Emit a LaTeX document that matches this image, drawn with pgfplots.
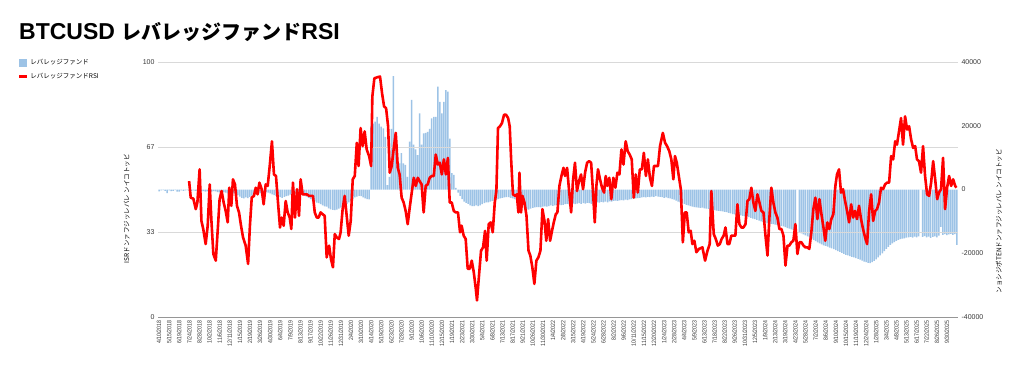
\documentclass[border=0pt]{standalone}
\usepackage{pgfplots}
\pgfplotsset{compat=1.18}
\usepackage{fontspec}
\setmainfont{Liberation Sans}
\newfontfamily\jp{Noto Sans CJK JP}
\newfontfamily\narrow[FakeStretch=0.84]{Liberation Sans}
\definecolor{barblue}{RGB}{157,195,230}
\definecolor{tickgray}{RGB}{55,55,55}
\definecolor{gridgray}{RGB}{217,217,217}
\definecolor{axisgray}{RGB}{150,150,150}
\begin{document}
\begin{tikzpicture}
\useasboundingbox (0,0) rectangle (1024bp,380bp);
\node[anchor=base west, inner sep=0] at (19bp,340bp) {\fontsize{23bp}{26bp}\selectfont\bfseries BTCUSD {\jp\fontsize{20bp}{26bp}\selectfont\bfseries レバレッジファンド}RSI};
\pgfplotsset{base/.style={at={(158bp,63bp)}, anchor=south west, scale only axis, width=800bp, height=255bp, xmin=-0.5, xmax=395.5, major tick length=0pt, /pgf/number format/assume math mode=true}}
% ---------- bars (right axis) ----------
\begin{axis}[base, ymin=-40000, ymax=40000,
  axis y line*=right, axis x line=none,
  y axis line style={draw=none},
  scaled y ticks=false,
  ytick={-40000,-20000,0,20000,40000},
  yticklabels={-40000,-20000,0,20000,40000},
  yticklabel style={font=\fontsize{7bp}{8bp}\selectfont, text=tickgray},
  ylabel={\jp\fontsize{6.5bp}{7bp}\selectfont ンョシジポTENドンァフジッレバレ ンイコトッビ},
  every axis y label/.style={at={(1.051,0.376)}, rotate=90, anchor=center},
  xtick=\empty]
\addplot[ybar, bar width=1.5bp, fill=barblue, draw=none] coordinates {
(0,-600)(1,-300)(2,-200)(3,-400)(4,-1100)(5,-300)(6,-500)(7,-400)(8,-200)(9,-700)
(10,-700)(11,-300)(12,-400)(13,-300)(14,-200)(15,-400)(16,-500)(17,-300)(18,-400)(19,-500)
(20,-400)(21,-600)(22,-500)(23,-700)(24,-600)(25,-800)(26,-700)(27,-500)(28,-600)(29,-800)
(30,-900)(31,-700)(32,-800)(33,-1000)(34,-1200)(35,-900)(36,-1500)(37,-1200)(38,-1600)(39,-1800)
(40,-2200)(41,-2600)(42,-2800)(43,-2500)(44,-2700)(45,-2300)(46,-1900)(47,-1500)(48,-1200)(49,-900)
(50,-1100)(51,-800)(52,-700)(53,-900)(54,-1000)(55,-1200)(56,-1500)(57,-1800)(58,-2000)(59,-2200)
(60,-2400)(61,-2600)(62,-2300)(63,-2100)(64,-1900)(65,-1600)(66,-1400)(67,-1500)(68,-1300)(69,-1500)
(70,-1700)(71,-1600)(72,-1900)(73,-2200)(74,-2600)(75,-3000)(76,-3400)(77,-3700)(78,-4100)(79,-4300)
(80,-4600)(81,-5000)(82,-5300)(83,-5400)(84,-5900)(85,-6200)(86,-6400)(87,-6500)(88,-6300)(89,-6000)
(90,-5700)(91,-5400)(92,-5000)(93,-4500)(94,-4000)(95,-3500)(96,-3000)(97,-2500)(98,-2200)(99,-2000)
(100,-2100)(101,-2500)(102,-2800)(103,-3000)(104,-3100)(105,20000)(106,20700)(107,21300)(108,22800)(109,20700)
(110,19700)(111,19200)(112,16500)(113,1400)(114,4000)(115,19000)(116,35600)(117,13600)(118,10500)(119,8200)
(120,11400)(121,8200)(122,7700)(123,4000)(124,15000)(125,28100)(126,14100)(127,12600)(128,10800)(129,23900)
(130,14100)(131,17600)(132,17800)(133,18100)(134,19000)(135,22300)(136,22800)(137,22800)(138,32300)(139,27500)
(140,23900)(141,27500)(142,31200)(143,30700)(144,16000)(145,5100)(146,4600)(147,500)(148,-1000)(149,-2000)
(150,-3000)(151,-3800)(152,-4200)(153,-4500)(154,-5000)(155,-5200)(156,-5200)(157,-5000)(158,-5200)(159,-5000)
(160,-4600)(161,-4300)(162,-4000)(163,-4000)(164,-3800)(165,-3600)(166,-3400)(167,-3200)(168,-3000)(169,-2800)
(170,-2600)(171,-2500)(172,-2400)(173,-2400)(174,-2600)(175,-2800)(176,-3000)(177,-3200)(178,-3500)(179,-4000)
(180,-5000)(181,-5800)(182,-6200)(183,-6300)(184,-6000)(185,-5800)(186,-5600)(187,-5500)(188,-5500)(189,-5600)
(190,-5400)(191,-5300)(192,-5400)(193,-5200)(194,-5000)(195,-5100)(196,-5000)(197,-4800)(198,-4700)(199,-4900)
(200,-4800)(201,-4600)(202,-4500)(203,-4700)(204,-4500)(205,-4400)(206,-4600)(207,-4400)(208,-4300)(209,-4500)
(210,-4300)(211,-4400)(212,-4200)(213,-4300)(214,-4500)(215,-4300)(216,-4200)(217,-4000)(218,-4100)(219,-3900)
(220,-4000)(221,-3800)(222,-4000)(223,-3700)(224,-3800)(225,-3600)(226,-3500)(227,-3600)(228,-3400)(229,-3300)
(230,-3400)(231,-3200)(232,-3300)(233,-3100)(234,-3000)(235,-2900)(236,-2800)(237,-2700)(238,-2600)(239,-2500)
(240,-2400)(241,-2500)(242,-2300)(243,-2400)(244,-2200)(245,-2300)(246,-2100)(247,-2200)(248,-2300)(249,-2400)
(250,-2600)(251,-2500)(252,-2700)(253,-2800)(254,-3000)(255,-3200)(256,-3500)(257,-3800)(258,-4000)(259,-4300)
(260,-4500)(261,-4800)(262,-5000)(263,-5200)(264,-5400)(265,-5500)(266,-5600)(267,-5700)(268,-5800)(269,-5700)
(270,-5900)(271,-6000)(272,-6100)(273,-6300)(274,-6400)(275,-6500)(276,-6600)(277,-6700)(278,-6800)(279,-6900)
(280,-7000)(281,-7100)(282,-7300)(283,-7500)(284,-7700)(285,-7800)(286,-7900)(287,-8000)(288,-8100)(289,-8300)
(290,-8400)(291,-8500)(292,-8700)(293,-8900)(294,-9100)(295,-9300)(296,-9500)(297,-9800)(298,-10000)(299,-10200)
(300,-10400)(301,-10600)(302,-10700)(303,-10800)(304,-10900)(305,-11000)(306,-11100)(307,-11200)(308,-11400)(309,-11600)
(310,-11800)(311,-12100)(312,-12300)(313,-12500)(314,-12700)(315,-13000)(316,0)(317,-13500)(318,-13800)(319,-14100)
(320,-14400)(321,-14700)(322,-15000)(323,-15400)(324,-15800)(325,-16200)(326,-16600)(327,-16900)(328,-17200)(329,-17500)
(330,-17700)(331,-17900)(332,-18200)(333,-18500)(334,-18700)(335,-19000)(336,-19300)(337,-19600)(338,-19900)(339,-20200)
(340,-20500)(341,-20700)(342,-20900)(343,-21100)(344,-21300)(345,-21500)(346,-21800)(347,-22000)(348,-22300)(349,-22600)
(350,-22800)(351,-23000)(352,-23100)(353,-22800)(354,-22400)(355,-21900)(356,-21300)(357,-20700)(358,-20000)(359,-19300)
(360,-18600)(361,-18000)(362,-17400)(363,-16900)(364,-16500)(365,-16100)(366,-15800)(367,-15600)(368,-15400)(369,-15300)
(370,-15100)(371,-15000)(372,-14900)(373,-15100)(374,-14800)(375,-15000)(376,-14700)(377,0)(378,-14900)(379,-14600)
(380,-15000)(381,-14800)(382,-15200)(383,-14900)(384,-14700)(385,-15000)(386,-14500)(387,-11700)(388,-14200)(389,-14000)
(390,-14300)(391,-14100)(392,-13900)(393,-14200)(394,-14000)(395,-17400)
};
\end{axis}
% ---------- RSI (left axis) ----------
\begin{axis}[base, ymin=0, ymax=100,
  axis x line*=bottom, axis y line*=left,
  y axis line style={draw=none},
  x axis line style={draw=axisgray, line width=0.8bp},
  ytick={0,33.333,66.667,100}, yticklabels={0,33,67,100},
  yticklabel style={font=\fontsize{7bp}{8bp}\selectfont, text=tickgray},
  ymajorgrids, grid style={gridgray, line width=0.75bp},
  xtick={0,5,...,390},
  xticklabels={4/10/2018,5/15/2018,6/19/2018,7/24/2018,8/28/2018,10/2/2018,11/6/2018,12/11/2018,
  1/15/2019,2/19/2019,3/26/2019,4/30/2019,6/4/2019,7/9/2019,8/13/2019,9/17/2019,10/22/2019,11/26/2019,12/31/2019,
  2/4/2020,3/10/2020,4/14/2020,5/19/2020,6/23/2020,7/28/2020,9/1/2020,10/6/2020,11/10/2020,12/15/2020,
  1/19/2021,2/23/2021,3/30/2021,5/4/2021,6/8/2021,7/13/2021,8/17/2021,9/21/2021,10/26/2021,11/30/2021,
  1/4/2022,2/8/2022,3/15/2022,4/19/2022,5/24/2022,6/28/2022,8/2/2022,9/6/2022,10/11/2022,11/15/2022,12/20/2022,
  1/24/2023,2/28/2023,4/4/2023,5/9/2023,6/13/2023,7/18/2023,8/22/2023,9/26/2023,10/31/2023,12/5/2023,
  1/9/2024,2/13/2024,3/19/2024,4/23/2024,5/28/2024,7/2/2024,8/6/2024,9/10/2024,10/15/2024,11/19/2024,12/24/2024,
  1/28/2025,3/4/2025,4/8/2025,5/13/2025,6/17/2025,7/22/2025,8/26/2025,9/30/2025},
  xticklabel style={rotate=90, anchor=east, font=\narrow\fontsize{6.2bp}{7bp}\selectfont, text=tickgray},
  ylabel={\jp\fontsize{6.5bp}{7bp}\selectfont ISRドンァフジッレバレ ンイコトッビ},
  every axis y label/.style={at={(-0.039,0.424)}, rotate=90, anchor=center},
  legend style={at={(-0.179,1.028)}, anchor=north west, draw=none, fill=none,
    font=\jp\fontsize{6.5bp}{7bp}\selectfont, row sep=3bp},
  legend cell align=left]
\addlegendimage{legend image code/.code={\fill[barblue] (0bp,-3.5bp) rectangle (7bp,3.5bp);}}
\addlegendentry{レバレッジファンド}
\addplot[red, line width=2.6bp, line join=round, mark=none,
  legend image code/.code={\draw[red, line width=2.5bp] (0bp,0bp) -- (8bp,0bp);}] coordinates {
(14.9,53.3)(15.7,46.8)(17.0,46.4)(18.2,42.3)(19.0,44.9)(20.1,57.9)(21.0,37.7)(21.9,34.5)(23.1,28.6)(24.1,35.8)
(25.1,52.0)(25.9,38.4)(26.9,24.7)(28.1,22.1)(29.2,35.8)(30.0,46.2)(31.0,49.4)(32.0,44.9)(33.0,41.6)(34.0,37.1)
(34.8,50.7)(35.8,43.6)(36.6,54.0)(37.6,52.0)(38.6,43.6)(39.6,41.0)(40.6,35.8)(41.6,31.2)(42.9,28.0)(44.1,20.8)
(45.0,35.8)(45.9,46.8)(47.0,47.5)(47.9,50.7)(48.8,48.1)(49.7,52.7)(50.8,50.1)(51.8,44.2)(52.8,52.0)(53.8,51.4)
(54.8,59.2)(55.9,68.9)(56.9,55.9)(57.9,55.3)(58.9,44.9)(59.9,35.1)(60.7,39.0)(61.7,35.8)(62.7,45.5)(63.7,41.0)
(64.7,39.0)(65.5,34.5)(66.3,52.7)(67.3,39.0)(68.3,50.1)(69.3,39.7)(70.1,54.0)(71.1,48.1)(72.1,48.1)(73.1,48.1)
(74.3,47.5)(75.4,47.5)(76.2,47.5)(77.1,41.0)(78.1,39.0)(79.0,39.0)(80.0,41.0)(81.0,40.3)(82.0,39.7)(83.0,23.4)
(84.2,28.0)(85.1,22.8)(86.1,19.5)(87.0,32.5)(88.0,31.2)(89.1,30.6)(89.9,33.2)(90.9,42.3)(91.9,47.5)(92.9,39.7)
(93.9,31.9)(94.9,37.7)(95.9,54.0)(96.9,55.3)(97.9,68.3)(98.8,59.2)(99.8,74.1)(100.8,67.0)(101.8,72.8)(102.8,65.7)
(104.0,63.1)(105.0,59.2)(105.6,86.5)(106.6,93.6)(108.0,94.0)(109.4,94.3)(110.4,87.8)(111.4,82.6)(112.4,81.9)(113.4,74.8)
(114.2,56.6)(115.2,59.2)(116.3,67.0)(117.2,72.2)(118.2,58.5)(119.1,55.9)(120.1,46.8)(121.1,44.9)(122.1,41.6)(123.1,36.4)
(124.1,42.9)(125.1,48.8)(126.1,54.6)(127.1,51.4)(128.1,54.6)(129.0,53.3)(130.0,52.0)(131.0,41.0)(132.0,51.4)(133.0,52.0)
(134.0,54.6)(135.0,55.3)(136.0,55.3)(137.0,63.7)(138.0,59.8)(139.0,60.5)(140.0,55.9)(141.0,61.8)(142.0,55.9)(143.0,62.4)
(143.9,44.9)(144.9,44.9)(145.9,41.6)(146.9,41.0)(148.0,41.0)(149.0,33.2)(149.8,35.8)(150.8,31.9)(151.8,30.6)(152.8,18.9)
(153.8,18.9)(154.8,22.1)(155.8,17.6)(156.8,11.1)(157.4,6.5)(158.4,16.3)(159.4,26.0)(160.4,27.3)(161.4,33.8)(162.2,22.1)
(163.2,36.4)(164.2,37.1)(165.2,33.2)(166.2,44.9)(167.0,49.4)(167.8,74.1)(168.8,74.8)(169.8,76.1)(170.8,79.3)(171.8,79.3)
(172.8,78.0)(173.6,74.8)(174.3,61.8)(175.2,48.1)(176.3,47.5)(177.1,48.1)(177.9,41.0)(178.4,56.6)(179.2,41.0)(179.9,47.5)
(180.9,44.9)(181.9,39.7)(182.9,26.0)(183.8,24.1)(184.8,19.5)(185.8,13.0)(186.8,22.1)(187.8,23.4)(188.8,26.0)(189.8,42.3)
(190.8,37.7)(191.7,29.9)(192.6,38.4)(193.6,29.9)(194.4,33.2)(195.4,37.1)(196.4,40.3)(197.2,41.0)(198.2,51.4)(199.2,55.3)
(200.2,58.5)(201.0,55.3)(202.0,58.5)(203.0,49.4)(204.0,41.0)(204.9,53.3)(205.9,60.5)(206.9,49.4)(207.9,53.3)(208.9,55.9)
(209.9,50.1)(210.9,56.6)(211.9,60.5)(212.9,61.1)(213.9,60.5)(214.9,48.1)(215.7,37.1)(216.5,51.4)(217.3,57.9)(218.3,54.0)
(219.3,50.7)(220.3,48.8)(221.1,55.3)(221.9,51.4)(222.9,54.6)(223.9,46.2)(224.9,54.6)(225.9,50.7)(226.9,56.6)(227.9,55.9)
(228.9,65.7)(229.9,59.8)(231.0,68.9)(232.0,65.0)(233.0,63.7)(234.0,61.8)(235.0,46.8)(236.0,55.9)(237.0,48.8)(238.0,57.9)
(239.0,57.9)(240.0,64.4)(241.0,55.3)(242.0,61.8)(243.0,54.6)(244.0,51.4)(245.0,59.2)(246.0,59.2)(247.0,59.2)(248.0,67.0)
(249.4,72.2)(250.5,68.3)(251.5,67.0)(252.6,65.0)(253.6,61.8)(254.6,54.0)(255.4,63.1)(256.3,60.5)(257.3,55.3)(258.3,50.1)
(259.3,29.3)(260.3,41.0)(261.2,41.0)(262.2,33.2)(263.2,33.8)(264.0,28.6)(265.0,29.9)(266.0,25.4)
(267.3,26.7)(269.0,27.3)(270.3,22.1)(271.5,26.0)(272.6,28.6)(273.4,49.4)(274.6,32.5)(275.6,30.6)(276.6,28.0)(277.6,28.6)
(278.5,30.6)(279.5,31.9)(280.4,35.1)(281.4,28.6)(282.3,28.6)(283.3,31.9)(284.3,31.9)(285.3,31.9)(286.3,44.2)(287.3,36.4)
(288.3,35.1)(289.3,35.1)(290.3,36.4)(291.3,45.5)(292.2,46.2)(293.2,50.7)(294.2,44.9)(295.2,41.6)(296.2,48.1)(297.2,44.9)
(298.2,41.6)(299.2,41.0)(300.2,31.9)(301.2,24.1)(302.1,38.4)(303.1,50.7)(304.1,44.9)(305.1,41.0)(306.1,39.0)(307.1,34.5)
(308.1,34.5)(309.1,31.9)(310.1,20.2)(311.1,28.0)(312.0,28.0)(313.0,29.3)(314.0,29.9)(315.0,36.4)(316.0,24.7)(317.0,29.3)
(318.0,29.3)(319.0,28.0)(320.0,27.3)(320.9,27.3)(321.9,26.7)(322.9,33.2)(323.9,42.3)(324.9,46.8)(325.9,38.4)(326.9,46.2)
(327.9,40.3)(328.9,35.1)(329.8,29.9)(330.8,37.1)(331.8,34.5)(332.8,38.4)(333.8,40.3)(334.8,51.4)(335.6,55.9)(336.6,57.9)
(337.6,48.8)(338.6,50.1)(339.6,45.5)(340.6,41.6)(341.6,37.1)(342.6,44.2)(343.6,39.0)(344.5,41.6)(345.5,38.4)(346.5,43.6)
(347.5,38.4)(348.5,34.5)(349.5,31.2)(350.5,28.6)(351.5,41.6)(352.5,48.1)(353.5,37.7)(354.5,41.6)(355.4,42.3)(356.4,44.9)
(357.4,50.7)(358.4,50.1)(359.4,52.0)(360.4,52.7)(361.4,52.7)(362.4,63.1)(363.4,61.8)(364.4,68.9)(365.3,67.6)(366.3,72.8)
(367.3,78.0)(368.3,67.6)(369.3,78.7)(370.3,73.5)(371.3,74.8)(372.3,69.6)(373.3,66.3)(374.3,67.0)(375.2,61.8)(376.2,61.1)
(377.2,56.6)(378.2,67.0)(379.2,55.3)(380.2,48.1)(381.2,47.5)(382.2,52.7)(383.2,61.1)(384.2,54.0)(385.2,46.2)(386.1,48.8)
(387.1,50.1)(388.1,62.4)(389.1,42.3)(390.1,50.7)(391.1,55.3)(392.1,51.4)(393.1,54.0)(394.1,51.4)(394.7,50.7)
};
\addlegendentry{レバレッジファンドRSI}
\end{axis}
\end{tikzpicture}
\end{document}
